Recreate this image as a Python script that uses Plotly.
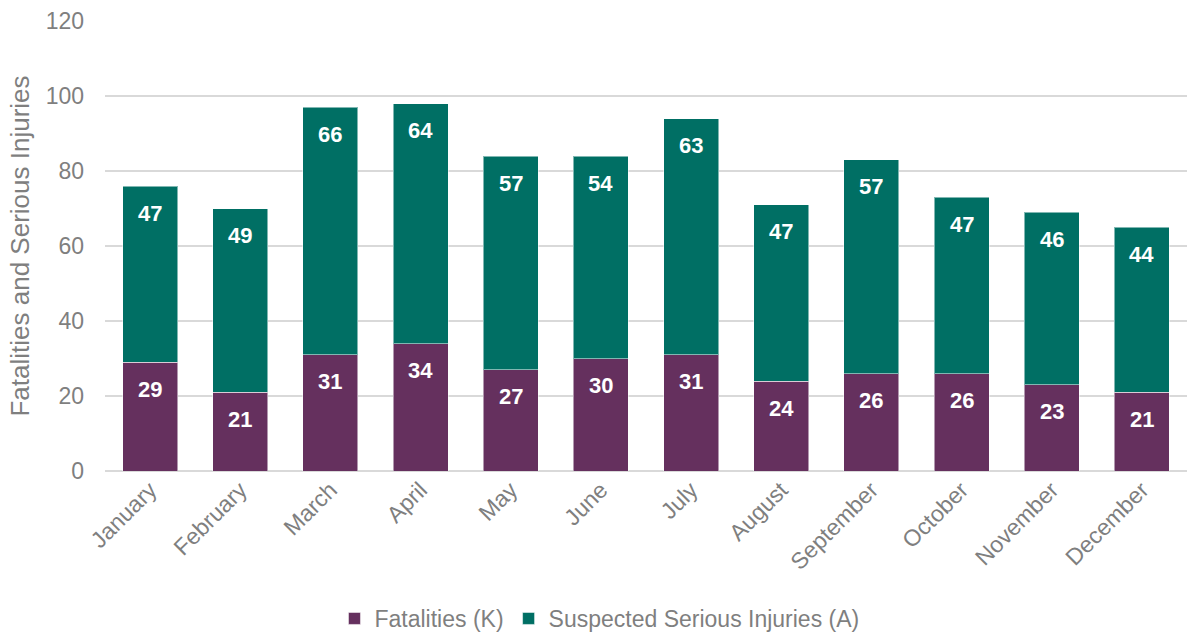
import plotly.graph_objects as go

months = ["January", "February", "March", "April", "May", "June", "July",
          "August", "September", "October", "November", "December"]
fatalities = [29, 21, 31, 34, 27, 30, 31, 24, 26, 26, 23, 21]
injuries = [47, 49, 66, 64, 57, 54, 63, 47, 57, 47, 46, 44]
y_ticks = [0, 20, 40, 60, 80, 100, 120]

PURPLE = "#65305E"
TEAL = "#006F64"
GRAY = "#7F7F7F"
FONT = "Liberation Sans, Arial, sans-serif"

fig = go.Figure()
fig.add_trace(go.Bar(x=months, y=fatalities, name="Fatalities (K)",
                     marker=dict(color=PURPLE, line=dict(color="rgba(255,255,255,0.5)", width=1))))
fig.add_trace(go.Bar(x=months, y=injuries, name="Suspected Serious Injuries (A)",
                     marker=dict(color=TEAL, line=dict(color="rgba(255,255,255,0.5)", width=1))))

totals = [f + i for f, i in zip(fatalities, injuries)]
for m, f, i, t in zip(months, fatalities, injuries, totals):
    for top, val in ((f, f), (t, i)):
        fig.add_annotation(x=m, y=top, text=f"<b>{val}</b>", showarrow=False,
                           yanchor="middle", yshift=-27,
                           font=dict(family=FONT, size=22, color="white"))

fig.update_layout(
    barmode="stack",
    bargap=0.39,
    width=1187, height=640,
    margin=dict(l=105, r=0, t=21, b=169),
    plot_bgcolor="white", paper_bgcolor="white",
    font=dict(family=FONT, size=23, color=GRAY),
    legend=dict(orientation="h", x=0.457, xanchor="center",
                yref="container", y=0.0, yanchor="bottom",
                font=dict(family=FONT, size=23, color=GRAY), traceorder="normal",
                itemwidth=30),
    xaxis=dict(tickangle=-45, tickfont=dict(family=FONT, size=23, color=GRAY),
               showline=False, ticks="", automargin=False),
    yaxis=dict(range=[0, 120], tickvals=y_ticks, showgrid=True, gridcolor="#D9D9D9",
               gridwidth=1.5, zeroline=True, zerolinecolor="#D9D9D9", zerolinewidth=1.5,
               tickfont=dict(family=FONT, size=23, color=GRAY), ticks="", ticklen=0,
               ticklabelstandoff=20, automargin=False,
               title=dict(text="Fatalities and Serious Injuries", standoff=8,
                          font=dict(family=FONT, size=26, color=GRAY))),
)

fig.write_html("out.html")
